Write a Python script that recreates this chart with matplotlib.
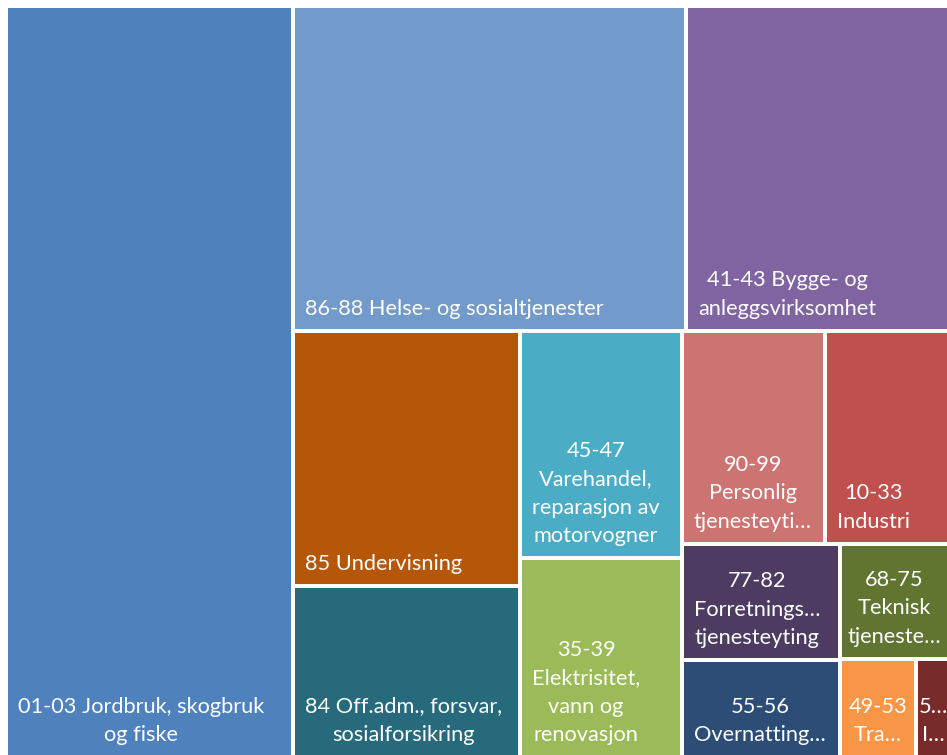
import matplotlib
matplotlib.use("Agg")
import matplotlib.pyplot as plt
from matplotlib.patches import Rectangle

# ---- data (sorted by value, descending) ----
labels = [
    "01-03 Jordbruk, skogbruk\nog fiske",
    "86-88 Helse- og sosialtjenester",
    "41-43 Bygge- og\nanleggsvirksomhet",
    "85 Undervisning",
    "84 Off.adm., forsvar,\nsosialforsikring",
    "45-47\nVarehandel,\nreparasjon av\nmotorvogner",
    "35-39\nElektrisitet,\nvann og\nrenovasjon",
    "90-99\nPersonlig\ntjenesteyti…",
    "10-33\nIndustri",
    "77-82\nForretnings…\ntjenesteyting",
    "55-56\nOvernatting…",
    "68-75\nTeknisk\ntjeneste…",
    "49-53\nTra…",
    "5…\nI…",
]
values = [304.3, 180.3, 120.3, 81.9, 54.8, 52.0, 45.5, 43.0, 37.3, 26.0, 21.5, 17.8, 10.6, 4.6]
colors = ["#4F81BD", "#729ACA", "#8064A2", "#B65708", "#276A7C", "#4BACC6", "#9BBB59",
          "#CD7371", "#C0504D", "#4D3B62", "#2C4D75", "#5F7530", "#F79646", "#772C2A"]
row_sizes = [1, 2, 2, 2, 2, 2, 1, 1, 1]

W, H = 943.0, 751.0
GAP = 2.0
PAD = 10.0


def layout(vals, x, y, w, h, rows):
    total = sum(vals)
    scale = w * h / total
    areas = [v * scale for v in vals]
    rects = []
    i = 0
    for n in rows:
        group = areas[i:i + n]
        s = sum(group)
        if w >= h:
            cw = s / h
            yy = y
            for a in group:
                hh = a / cw
                rects.append((x, yy, cw, hh))
                yy += hh
            x += cw
            w -= cw
        else:
            rh = s / w
            xx = x
            for a in group:
                ww = a / rh
                rects.append((xx, y, ww, rh))
                xx += ww
            y += rh
            h -= rh
        i += n
    return rects


rects = layout(values, 0, 0, W, H, row_sizes)

fig = plt.figure(figsize=(9.47, 7.55), dpi=100)
ax = fig.add_axes([6 / 947, -2 / 755, W / 947, H / 755])
ax.set_xlim(0, W)
ax.set_ylim(H, 0)
ax.axis("off")

texts = []
for (x, y, w, h), lab, col in zip(rects, labels, colors):
    ax.add_patch(Rectangle((x + GAP, y + GAP), w - 2 * GAP, h - 2 * GAP,
                           facecolor=col, edgecolor="none"))
    t = ax.text(x + GAP + PAD, y + h - GAP - PAD, lab, ha="left", va="bottom",
                multialignment="center", color="white", fontsize=15.7,
                family=["Lato", "DejaVu Sans"], linespacing=1.53)
    texts.append((t, x, w))

fig.canvas.draw()
r = fig.canvas.get_renderer()
inv = ax.transData.inverted()
for t, x, w in texts:
    bb = t.get_window_extent(renderer=r)
    tw = inv.transform((bb.x1, 0))[0] - inv.transform((bb.x0, 0))[0]
    if tw > w - 2 * GAP - 2 * PAD:
        t.set_x(x + max(GAP + 1, (w - tw) / 2))

fig.savefig("out.png", dpi=100)
